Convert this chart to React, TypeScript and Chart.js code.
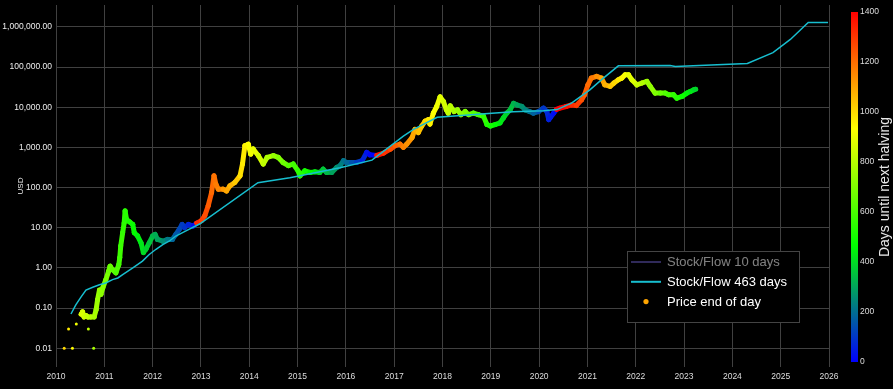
import React, { useEffect, useRef } from "react";
import { Chart, registerables } from "chart.js";

Chart.register(...registerables);

// ---------- data ----------
const halvingYears = [2012.91, 2016.52, 2020.36, 2024.3];
const colorbarTicks = [0, 200, 400, 600, 800, 1000, 1200, 1400];
const usdTicks = [0.01, 0.1, 1, 10, 100, 1000, 10000, 100000, 1000000];
const yearTicks = [2010, 2011, 2012, 2013, 2014, 2015, 2016, 2017, 2018, 2019, 2020, 2021, 2022, 2023, 2024, 2025, 2026];

// isolated early prints
const earlyYears = [2010.17, 2010.26, 2010.34, 2010.42, 2010.67, 2010.78];
const earlyUsd = [0.01, 0.03, 0.01, 0.04, 0.03, 0.01];

// price end of day
const priceYears = [
  2010.52, 2010.55, 2010.58, 2010.62, 2010.66, 2010.72, 2010.79, 2010.83, 2010.86, 2010.9, 2010.93, 2010.97,
  2011.03, 2011.09, 2011.12, 2011.17, 2011.24, 2011.3, 2011.32, 2011.34, 2011.38, 2011.41, 2011.43, 2011.46,
  2011.52, 2011.59, 2011.62, 2011.69, 2011.76, 2011.81, 2011.86, 2011.93, 2012.0, 2012.05, 2012.1, 2012.21,
  2012.31, 2012.41, 2012.48, 2012.55, 2012.61, 2012.66, 2012.74, 2012.84, 2012.91, 2013.01, 2013.08, 2013.15,
  2013.22, 2013.27, 2013.31, 2013.36, 2013.46, 2013.53, 2013.6, 2013.7, 2013.81, 2013.86, 2013.91, 2013.98,
  2014.03, 2014.08, 2014.19, 2014.29, 2014.37, 2014.5, 2014.6, 2014.7, 2014.81, 2014.91, 2015.01, 2015.05,
  2015.15, 2015.26, 2015.36, 2015.46, 2015.53, 2015.6, 2015.71, 2015.81, 2015.88, 2015.95, 2016.01, 2016.12,
  2016.22, 2016.34, 2016.43, 2016.5, 2016.64, 2016.78, 2016.92, 2017.02, 2017.12, 2017.19, 2017.26, 2017.37,
  2017.43, 2017.5, 2017.57, 2017.64, 2017.71, 2017.74, 2017.81, 2017.88, 2017.95, 2018.02, 2018.08, 2018.12,
  2018.16, 2018.24, 2018.31, 2018.38, 2018.47, 2018.54, 2018.64, 2018.74, 2018.85, 2018.92, 2018.99, 2019.09,
  2019.19, 2019.26, 2019.33, 2019.4, 2019.47, 2019.54, 2019.64, 2019.71, 2019.8, 2019.88, 2019.99, 2020.09,
  2020.16, 2020.2, 2020.23, 2020.3, 2020.36, 2020.42, 2020.56, 2020.67, 2020.77, 2020.88, 2020.94, 2021.01,
  2021.08, 2021.19, 2021.29, 2021.36, 2021.47, 2021.55, 2021.64, 2021.71, 2021.78, 2021.85, 2021.92, 2022.02,
  2022.13, 2022.23, 2022.3, 2022.4, 2022.51, 2022.61, 2022.68, 2022.78, 2022.85, 2022.96, 2023.06, 2023.13,
  2023.2, 2023.24,
];
const priceUsd = [
  0.07, 0.08, 0.06, 0.065, 0.06, 0.06, 0.06, 0.09, 0.16, 0.28, 0.22, 0.32,
  0.5, 0.83, 1.1, 0.9, 0.75, 1.2, 1.8, 3.5, 7.5, 13, 26, 16,
  14, 12, 7.5, 6.2, 4.2, 2.4, 2.9, 4.2, 6.2, 6.8, 5.1, 4.6,
  5.1, 5.1, 6.8, 9, 12, 10, 12, 11, 13, 15, 20, 35,
  75, 195, 120, 91, 91, 82, 110, 133, 195, 385, 1100, 1200,
  680, 910, 620, 385, 560, 620, 560, 420, 350, 385, 260, 195,
  260, 237, 245, 237, 285, 237, 240, 316, 350, 465, 420, 420,
  420, 465, 750, 650, 630, 720, 900, 1100, 1200, 1000, 1200, 1750,
  2800, 2330, 3380, 4470, 4900, 3800, 7100, 10400, 18000, 13800, 8600, 7100,
  10800, 7800, 8600, 6500, 7800, 6500, 7100, 6500, 5900, 3700, 3400, 3700,
  4050, 5400, 7100, 8600, 12500, 11400, 10500, 8600, 7800, 7100, 7800, 9500,
  7800, 4900, 5500, 7100, 8800, 9400, 10400, 11400, 11000, 15200, 20400, 36000,
  53000, 58600, 53000, 36000, 33000, 40000, 48000, 53000, 64000, 64000, 48000, 36000,
  40000, 44000, 33000, 22400, 22400, 22400, 20400, 20400, 16800, 18600, 22400, 24600,
  27000, 28000,
];

// Stock/Flow 463 days model line
const sf463Years = [
  2010.31, 2010.41, 2010.52, 2010.62, 2010.76, 2010.9, 2011.03, 2011.17, 2011.28, 2011.38, 2011.59, 2011.79,
  2011.93, 2012.07, 2012.21, 2012.34, 2012.48, 2012.69, 2012.98, 2014.18, 2014.84, 2015.05, 2015.88, 2016.54,
  2017.19, 2017.4, 2017.89, 2018.88, 2019.46, 2020.09, 2020.37, 2020.67, 2021.05, 2021.33, 2021.64, 2022.71,
  2022.82, 2024.31, 2024.84, 2025.2, 2025.57, 2025.98,
];
const sf463Usd = [
  0.071, 0.12, 0.19, 0.28, 0.33, 0.38, 0.42, 0.51, 0.56, 0.68, 1.0, 1.47,
  2.15, 2.9, 3.8, 4.6, 6.2, 8.3, 12.5, 132, 175, 196, 310, 480,
  1900, 2800, 5600, 6900, 7700, 8200, 8700, 12600, 27000, 53000, 107000, 109000,
  103000, 123000, 229000, 486000, 1290000, 1290000,
];

// Stock/Flow 10 days (legend only, hidden)
const sf10Years: number[] = [];
const sf10Usd: number[] = [];

// ---------- styling helpers ----------
const FONT = "'Liberation Sans', Arial, sans-serif";
const MAX_DAYS = 1400;
const colorStops: [number, number[]][] = [
  [0, [0, 0, 255]],
  [1 / 3, [0, 255, 0]],
  [2 / 3, [255, 255, 0]],
  [1, [255, 0, 0]],
];

function daysUntilHalving(year: number): number {
  const next = halvingYears.find((h) => h > year);
  if (next === undefined) return MAX_DAYS;
  return Math.max(0, Math.min(MAX_DAYS, (next - year) * 365.25));
}

function colorForDays(d: number): string {
  const t = Math.max(0, Math.min(1, d / MAX_DAYS));
  for (let i = 1; i < colorStops.length; i++) {
    const [t1, c1] = colorStops[i];
    const [t0, c0] = colorStops[i - 1];
    if (t <= t1) {
      const f = (t - t0) / (t1 - t0);
      const c = c0.map((v, k) => Math.round(v + (c1[k] - v) * f));
      return `rgb(${c[0]},${c[1]},${c[2]})`;
    }
  }
  return "rgb(255,0,0)";
}

const colorForYear = (y: number) => colorForDays(daysUntilHalving(y));

const noEdgePadding = (s: any) => {
  s.paddingTop = 0;
  s.paddingBottom = 0;
};

const legendPlugin = {
  id: "boxLegend",
  afterDraw(chart: any) {
    const { ctx, chartArea } = chart;
    const left = chartArea.right - 202;
    const top = chartArea.bottom - 116;
    const w = 172;
    const h = 71;
    ctx.save();
    ctx.fillStyle = "#000";
    ctx.fillRect(left, top, w, h);
    ctx.strokeStyle = "#444";
    ctx.lineWidth = 1;
    ctx.strokeRect(Math.round(left) + 0.5, Math.round(top) + 0.5, w, h);
    ctx.font = `13px ${FONT}`;
    ctx.textBaseline = "middle";
    ctx.textAlign = "left";
    chart.data.datasets.forEach((ds: any, i: number) => {
      const y = top + 11 + i * 19.8;
      ctx.globalAlpha = chart.isDatasetVisible(i) ? 1 : 0.5;
      if (ds.legendMarker === "dot") {
        ctx.fillStyle = ds.legendColor;
        ctx.beginPath();
        ctx.arc(left + 19, y, 2.6, 0, Math.PI * 2);
        ctx.fill();
      } else {
        ctx.strokeStyle = ds.legendColor;
        ctx.lineWidth = 2;
        ctx.beginPath();
        ctx.moveTo(left + 4, y);
        ctx.lineTo(left + 34, y);
        ctx.stroke();
      }
      ctx.fillStyle = "#fff";
      ctx.fillText(ds.label, left + 40, y + 0.5);
    });
    ctx.restore();
  },
};

const colorbarPlugin = {
  id: "colorbar",
  afterDraw(chart: any) {
    const s = chart.scales.y2;
    const { ctx } = chart;
    const yTop = s.getPixelForValue(MAX_DAYS);
    const yBot = s.getPixelForValue(0);
    const x0 = s.left + 22;
    const g = ctx.createLinearGradient(0, yBot, 0, yTop);
    colorStops.forEach(([t, c]) => g.addColorStop(t, `rgb(${c[0]},${c[1]},${c[2]})`));
    ctx.save();
    ctx.fillStyle = g;
    ctx.fillRect(x0, yTop, 7, yBot - yTop);
    ctx.translate(s.right - 8, (yTop + yBot) / 2);
    ctx.rotate(-Math.PI / 2);
    ctx.font = `14px ${FONT}`;
    ctx.fillStyle = "#e8e8e8";
    ctx.textAlign = "center";
    ctx.textBaseline = "middle";
    ctx.fillText("Days until next halving", 0, 0);
    ctx.restore();
  },
};

const bgPlugin = {
  id: "bg",
  beforeDraw(chart: any) {
    const { ctx, width, height } = chart;
    ctx.save();
    ctx.fillStyle = "#000";
    ctx.fillRect(0, 0, width, height);
    ctx.restore();
  },
};

export default function App() {
  const canvasRef = useRef<HTMLCanvasElement | null>(null);

  useEffect(() => {
    document.body.style.margin = "0";
    document.body.style.background = "#000";
    if (!canvasRef.current) return;

    const priceData: { x: number; y: number | null }[] = [];
    earlyYears.forEach((x, i) => {
      priceData.push({ x, y: earlyUsd[i] });
      priceData.push({ x, y: null });
    });
    priceYears.forEach((x, i) => priceData.push({ x, y: priceUsd[i] }));
    const earlyCount = earlyYears.length * 2;

    const chart = new Chart(canvasRef.current, {
      type: "line",
      data: {
        datasets: [
          {
            label: "Stock/Flow 10 days",
            data: sf10Years.map((x, i) => ({ x, y: sf10Usd[i] })),
            hidden: true,
            borderColor: "rgb(96,84,180)",
            borderWidth: 1.5,
            pointRadius: 0,
            legendColor: "rgb(96,84,180)",
          } as any,
          {
            label: "Stock/Flow 463 days",
            data: sf463Years.map((x, i) => ({ x, y: sf463Usd[i] })),
            borderColor: "#17becf",
            borderWidth: 1.5,
            pointRadius: 0,
            legendColor: "#17becf",
          } as any,
          {
            label: "Price end of day",
            data: priceData,
            borderWidth: 5,
            borderCapStyle: "round",
            borderJoinStyle: "round",
            spanGaps: false,
            segment: {
              borderColor: (c: any) => colorForYear(c.p0.parsed.x),
            },
            pointRadius: (c: any) => (c.dataIndex < earlyCount ? 1.5 : 2.4),
            pointBorderWidth: 0,
            pointBackgroundColor: (c: any) => colorForYear(c.raw ? c.raw.x : 2010),
            legendMarker: "dot",
            legendColor: "#ffa500",
          } as any,
        ],
      },
      options: {
        animation: false,
        responsive: true,
        maintainAspectRatio: false,
        layout: { padding: { top: 5, left: 0, right: 0, bottom: 0 } },
        elements: { line: { tension: 0 } },
        plugins: {
          legend: { display: false },
          tooltip: { enabled: false },
        },
        scales: {
          x: {
            type: "linear",
            min: 2010,
            max: 2026,
            grid: { color: "#404040", drawTicks: false },
            border: { display: false },
            ticks: {
              color: "#dddddd",
              font: { family: FONT, size: 8.5 },
              padding: 5,
              maxRotation: 0,
              autoSkip: false,
              callback: (v: any) => String(v),
            },
            afterBuildTicks: (s: any) => {
              s.ticks = yearTicks.map((v) => ({ value: v }));
            },
            afterFit: (s: any) => {
              s.height = 22;
            },
          },
          y: {
            type: "logarithmic",
            position: "left",
            min: 0.0034,
            max: 3500000,
            grid: { color: "#404040", drawTicks: false },
            border: { display: false },
            ticks: {
              color: "#eeeeee",
              font: { family: FONT, size: 8.5 },
              padding: 4,
              autoSkip: false,
              callback: (v: any) =>
                Number(v).toLocaleString("en-US", { minimumFractionDigits: 2, maximumFractionDigits: 2 }),
            },
            afterBuildTicks: (s: any) => {
              s.ticks = usdTicks.map((v) => ({ value: v }));
            },
            title: {
              display: true,
              text: "USD",
              color: "#eeeeee",
              font: { family: FONT, size: 8 },
              padding: { top: 16, bottom: 0 },
            },
            afterFit: (s: any) => {
              s.width = 56;
              noEdgePadding(s);
            },
          },
          y2: {
            type: "linear",
            position: "right",
            min: -20,
            max: 1428,
            grid: { display: false, drawTicks: false },
            border: { display: false },
            ticks: {
              color: "#dddddd",
              font: { family: FONT, size: 8.5 },
              padding: 31,
              autoSkip: false,
              callback: (v: any) => String(v),
            },
            afterBuildTicks: (s: any) => {
              s.ticks = colorbarTicks.map((v) => ({ value: v }));
            },
            afterFit: (s: any) => {
              s.width = 64;
              noEdgePadding(s);
            },
          },
        },
      } as any,
      plugins: [bgPlugin, colorbarPlugin, legendPlugin],
    });

    return () => chart.destroy();
  }, []);

  return (
    <div style={{ position: "relative", width: "893px", height: "389px", background: "#000" }}>
      <canvas ref={canvasRef} />
    </div>
  );
}
